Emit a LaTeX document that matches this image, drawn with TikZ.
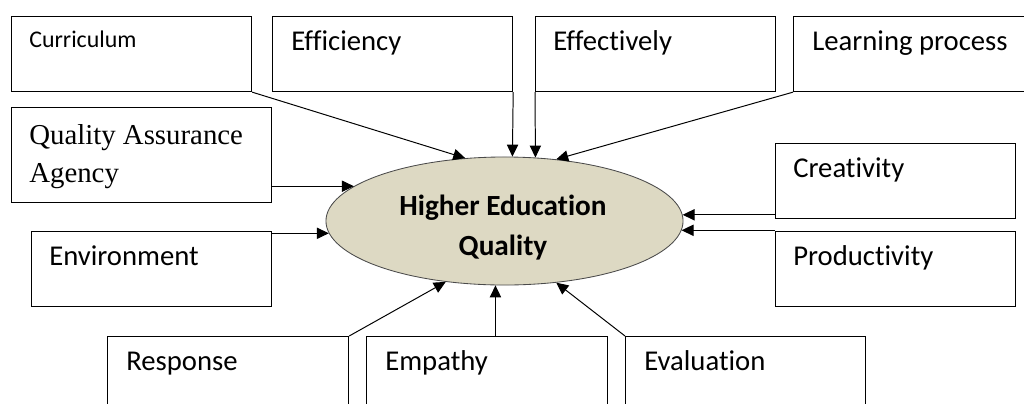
\documentclass[tikz,border=0pt]{standalone}
\usepackage{fontspec}
\setmainfont{Carlito}[Ligatures=NoCommon]
\newfontfamily\timesf{Liberation Serif}
\usetikzlibrary{arrows.meta,shapes.geometric}
\definecolor{ellfill}{HTML}{DDD9C3}
\definecolor{ellline}{HTML}{4A4A4A}
\tikzset{
  box/.style={draw=black, line width=0.8pt, rectangle, anchor=north west, inner sep=0pt,
              minimum width=6cm, minimum height=1.875cm},
  lbl/.style={anchor=base west, inner sep=0pt, font=\fontsize{20.4}{24}\selectfont},
  conn/.style={draw=black, line width=0.7pt, -{Triangle[length=8.5pt,width=8pt]}},
}
\begin{document}
\begin{tikzpicture}[x=0.025cm, y=-0.025cm]
\path[use as bounding box, clip] (0,0) rectangle (1024,403);
\fill[white] (0,0) rectangle (1024,403);

% central ellipse
\node[ellipse, draw=ellline, fill=ellfill, line width=0.6pt, inner sep=0pt,
      minimum width=8.925cm, minimum height=3.2cm] (he) at (504.5,221) {};
\node[align=center, inner sep=0pt, font=\fontsize{20.8}{28}\selectfont\bfseries] (hetext) at (503,227.5)
  {Higher Education\\Quality};

% boxes
\node[box] (cur) at (11,16) {};
\node[box] (eff) at (272,16) {};
\node[box] (efv) at (535,16) {};
\node[box] (lp)  at (793,16) {};
\node[box, minimum width=6.5cm, minimum height=2.375cm] (qaa) at (11,107) {};
\node[box] (cre) at (775,143) {};
\node[box] (env) at (31,231) {};
\node[box] (pro) at (775,231) {};
\node[box, minimum width=6.025cm] (res) at (107,336) {};
\node[box, minimum width=6.025cm] (emp) at (366,336) {};
\node[box] (eva) at (625,336) {};

% labels
\node[lbl, font=\fontsize{17}{20}\selectfont] (tcur) at (29,47) {Curriculum};
\node[lbl] (teff) at (291,50) {Efficiency};
\node[lbl] (tefv) at (553,50) {Effectively};
\node[lbl] (tlp)  at (812,50) {Learning process};
\node[lbl, font=\fontsize{20.5}{27.5}\selectfont\timesf, anchor=north west, align=left] (tqaa) at (29,124)
  {Quality Assurance\\Agency};
\node[lbl] (tcre) at (793,177) {Creativity};
\node[lbl] (tenv) at (49,265) {Environment};
\node[lbl] (tpro) at (793,265) {Productivity};
\node[lbl] (tres) at (126,370) {Response};
\node[lbl] (temp) at (385,370) {Empathy};
\node[lbl] (teva) at (644,370) {Evaluation};

% connectors
\draw[conn] (cur.south east) -- (he.122.3);
\draw[conn] (eff.south east) -- (he.83.3);
\draw[conn] (efv.south west) -- (he.64.2);
\draw[conn] (lp.south west) -- (he.50.6);
\draw[conn] (he.167.8 -| qaa.east) -- (he.167.8);
\draw[conn] (he.-176.75 -| env.east) -- (he.-176.75);
\draw[conn] (he.2.59 -| cre.west) -- (he.2.59);
\draw[conn] (he.-3.25 -| pro.west) -- (he.-3.25);
\draw[conn] (res.north east) -- (he.-134);
\draw[conn] (he.-98.5 |- emp.north) -- (he.-98.5);
\draw[conn] (eva.north west) -- (he.-50);
\end{tikzpicture}
\end{document}
